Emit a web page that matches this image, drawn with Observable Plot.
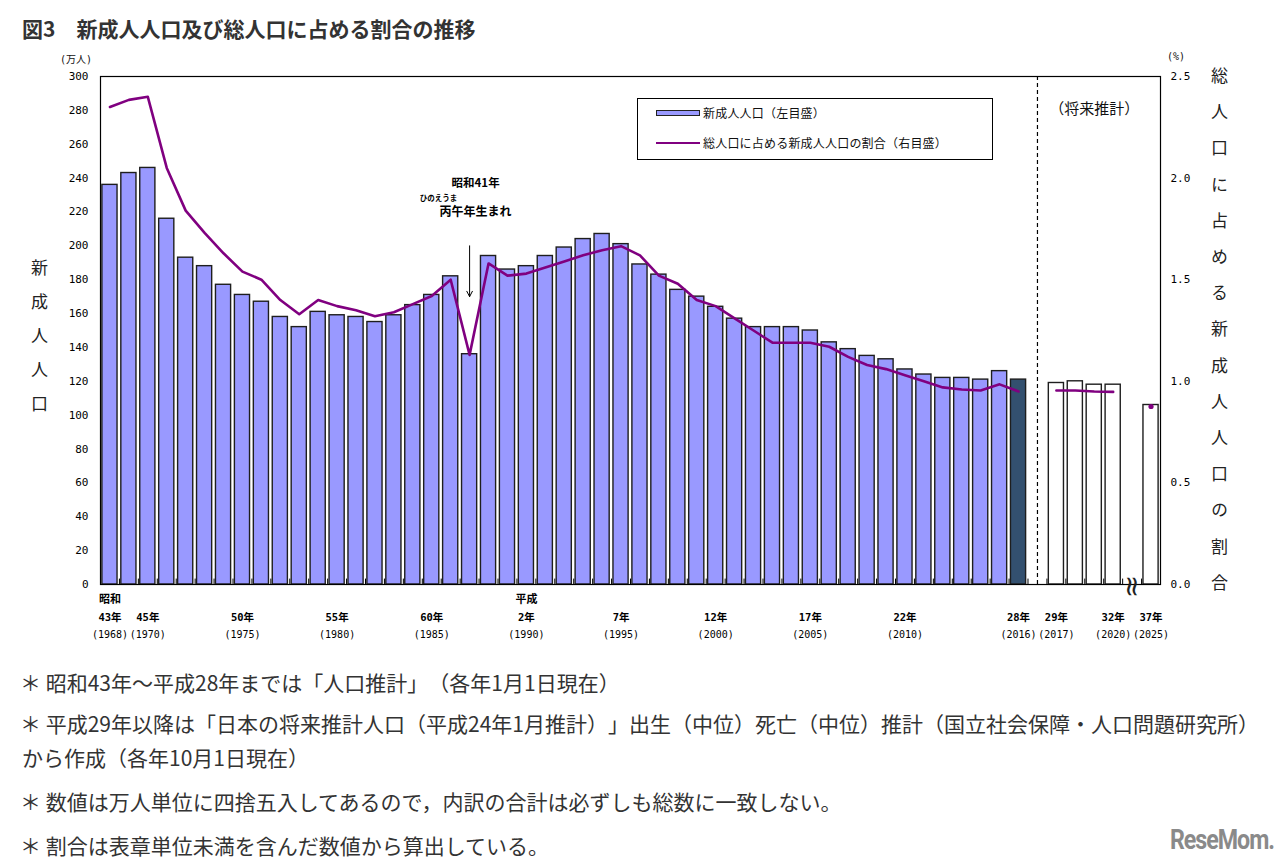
<!DOCTYPE html>
<html lang="ja">
<head>
<meta charset="utf-8">
<script src="https://cdn.jsdelivr.net/npm/d3@7"></script>
<script src="https://cdn.jsdelivr.net/npm/@observablehq/plot@0.6"></script>
<style>
html,body{margin:0;padding:0;background:#fff;}
#wrap{position:relative;width:1280px;height:865px;overflow:hidden;font-family:"Noto Sans CJK JP","Noto Sans",sans-serif;color:#333;text-spacing-trim:space-all;}
#chart{position:absolute;left:0;top:0;}
.abs{position:absolute;white-space:nowrap;}
#title{left:22px;top:15px;font-size:21px;font-weight:bold;line-height:26px;color:#333;}
.note{left:20px;font-size:21px;line-height:24px;color:#333;}
.vlab{writing-mode:vertical-rl;font-size:17px;line-height:17px;color:#222;}
#legend{left:637px;top:98px;width:354px;height:60px;border:1px solid #000;background:#fff;font-size:12px;color:#111;}
#legend .abs{font-size:12px;line-height:16px;letter-spacing:0.2px;}
.unit{font-family:"DejaVu Sans Mono","Noto Sans CJK JP",monospace;font-size:10px;color:#111;}
#logo{left:1170px;top:824px;font-family:Roboto,"Liberation Sans",sans-serif;font-weight:bold;font-size:27px;color:#8a8a8a;letter-spacing:-1.2px;transform:scaleX(0.86);transform-origin:left top;}
svg text{text-spacing-trim:space-all;}
</style>
</head>
<body>
<div id="wrap">
  <div id="title" class="abs">図3　新成人人口及び総人口に占める割合の推移</div>
  <div id="chart"></div>
  <div class="abs unit" style="left:60px;top:51px;">(万人)</div>
  <div class="abs unit" style="left:1167px;top:51px;">(%)</div>
  <div class="abs vlab" style="left:31px;top:259px;letter-spacing:17px;">新成人人口</div>
  <div class="abs vlab" style="left:1211px;top:67px;letter-spacing:19.2px;">総人口に占める新成人人口の割合</div>
  <div id="legend" class="abs">
    <div class="abs" style="left:18px;top:11px;width:42px;height:4px;background:#9999ff;border:1px solid #222;"></div>
    <div class="abs" style="left:65px;top:6px;">新成人人口（左目盛）</div>
    <div class="abs" style="left:18px;top:43px;width:44px;height:2px;background:#800080;"></div>
    <div class="abs" style="left:65px;top:36px;">総人口に占める新成人人口の割合（右目盛）</div>
  </div>
  <div class="abs note" style="top:670px;">＊ 昭和43年～平成28年までは「人口推計」（各年1月1日現在）</div>
  <div class="abs note" style="top:711px;">＊ 平成29年以降は「日本の将来推計人口（平成24年1月推計）」出生（中位）死亡（中位）推計（国立社会保障・人口問題研究所）</div>
  <div class="abs note" style="top:745px;left:22px;">から作成（各年10月1日現在）</div>
  <div class="abs note" style="top:789px;">＊ 数値は万人単位に四捨五入してあるので，内訳の合計は必ずしも総数に一致しない。</div>
  <div class="abs note" style="top:833px;">＊ 割合は表章単位未満を含んだ数値から算出している。</div>
  <div id="logo" class="abs">ReseMom.</div>
</div>
<script>
// ---- data ----
const years = ["1968","1969","1970","1971","1972","1973","1974","1975","1976","1977",
  "1978","1979","1980","1981","1982","1983","1984","1985","1986","1987",
  "1988","1989","1990","1991","1992","1993","1994","1995","1996","1997",
  "1998","1999","2000","2001","2002","2003","2004","2005","2006","2007",
  "2008","2009","2010","2011","2012","2013","2014","2015","2016"];
const adults = [236,243,246,216,193,188,177,171,167,158,
  152,161,159,158,155,159,165,171,182,136,
  194,186,188,194,199,204,207,201,189,183,
  174,170,164,157,152,152,152,150,143,139,
  135,133,127,124,122,122,121,126,121];
const ratio = [2.35,2.385,2.40,2.05,1.84,1.73,1.63,1.54,1.50,1.40,
  1.33,1.40,1.37,1.35,1.32,1.34,1.38,1.42,1.50,1.13,
  1.58,1.52,1.53,1.56,1.59,1.62,1.645,1.665,1.62,1.52,
  1.48,1.40,1.37,1.31,1.25,1.19,1.19,1.19,1.17,1.12,
  1.08,1.06,1.03,1.00,0.97,0.96,0.955,0.985,0.95];
const projYears = ["2017","2018","2019","2020"];
const projAdults = [119,120,118,118];
const projRatio = [0.955,0.955,0.95,0.948];
const farYear = "2025";
const farAdults = 106;
const farRatio = 0.876;

const tickKeys = ["1968","1970","1975","1980","1985","1990","1995","2000","2005","2010","2016","2017","2020","2025"];
const tickJp   = ["43年","45年","50年","55年","60年","2年","7年","12年","17年","22年","28年","29年","32年","37年"];
const tickWest = ["(1968)","(1970)","(1975)","(1980)","(1985)","(1990)","(1995)","(2000)","(2005)","(2010)","(2016)","(2017)","(2020)","(2025)"];
const eraKeys = ["1968","1990"];
const eraLabels = ["昭和","平成"];
const leftTicks = [0,20,40,60,80,100,120,140,160,180,200,220,240,260,280,300];
const rightTicks = [0,0.5,1.0,1.5,2.0,2.5];

// ---- build ----
const keys = [...years, "gap", ...projYears, "break", farYear];
const yMax = 300, rMax = 2.5, k = yMax / rMax;
const W = 1280, H = 650, ML = 100, MR = 120, MT = 76, MB = H - 584;
const step = (W - ML - MR) / keys.length;

const bars = [
  ...years.map((y, i) => ({key: y, value: adults[i], fill: y === "2016" ? "#33506f" : "#9999ff"})),
  ...projYears.map((y, i) => ({key: y, value: projAdults[i], fill: "#ffffff"})),
  {key: farYear, value: farAdults, fill: "#ffffff"}
];
const histLine = years.map((y, i) => ({key: y, v: ratio[i] * k}));
const projLine = projYears.map((y, i) => ({key: y, v: projRatio[i] * k}));
const farPoint = [{key: farYear, v: farRatio * k}];
const tickTable = tickKeys.map((key, i) => ({key, jp: tickJp[i], west: tickWest[i]}));
const eraTable = eraKeys.map((key, i) => ({key, label: eraLabels[i]}));

const mono = "DejaVu Sans Mono, Noto Sans CJK JP, monospace";
const cjk = "Noto Sans CJK JP, sans-serif";

const chart = Plot.plot({
  width: W, height: H,
  marginLeft: ML, marginRight: MR, marginTop: MT, marginBottom: MB,
  style: {fontFamily: mono, fontSize: "11px", color: "#000", background: "transparent"},
  x: {type: "band", domain: keys, paddingInner: 0.2, paddingOuter: 0.1, axis: null},
  y: {domain: [0, yMax], axis: null},
  color: {type: "identity"},
  marks: [
    Plot.ruleX(keys, {x: d => d, dx: -step / 2, y1: 0, y2: 3.2, stroke: "#000", strokeWidth: 1}),
    Plot.barY(bars, {x: "key", y: "value", fill: "fill", stroke: "#1e1e1e", strokeWidth: 1.4}),
    Plot.ruleX(["gap"], {x: d => d, stroke: "#000", strokeWidth: 1.2, strokeDasharray: "4,3"}),
    Plot.line(histLine, {x: "key", y: "v", stroke: "#800080", strokeWidth: 2.6}),
    Plot.line(projLine, {x: "key", y: "v", stroke: "#800080", strokeWidth: 2.6}),
    Plot.dot(farPoint, {x: "key", y: "v", r: 2.6, fill: "#800080"}),
    Plot.frame({stroke: "#000", strokeWidth: 1.2}),
    Plot.axisY(leftTicks, {anchor: "left", tickSize: 0, tickPadding: 12, label: null, fontSize: 11}),
    Plot.axisY(rightTicks.map(d => d * k), {anchor: "right", tickSize: 0, tickPadding: 10, label: null, fontSize: 11,
      tickFormat: d => (d / k).toFixed(1)}),
    Plot.text(eraTable, {x: "key", text: "label", frameAnchor: "bottom", dy: 18, fontFamily: cjk, fontWeight: "bold", fontSize: 11}),
    Plot.text(tickTable, {x: "key", text: "jp", frameAnchor: "bottom", dy: 36, fontSize: 10.5, fontWeight: "bold"}),
    Plot.text(tickTable, {x: "key", text: "west", frameAnchor: "bottom", dy: 53, fontSize: 10}),
    Plot.text(["break"], {x: d => d, text: () => "≈", rotate: 90, frameAnchor: "bottom", dx: -9, dy: 2, fontSize: 28, fontFamily: "DejaVu Sans, sans-serif", fill: "#222"}),
    Plot.text(["2019"], {x: d => d, text: () => "（将来推計）", frameAnchor: "top", dy: 27, fontFamily: cjk, fontSize: 15, fill: "#111"}),
    Plot.text(["1987"], {x: d => d, y: () => 237, text: () => "昭和41年", dx: 6, fontFamily: cjk, fontSize: 11.5, fontWeight: "bold"}),
    Plot.text(["1987"], {x: d => d, y: () => 228, text: () => "ひのえうま", dx: -31, fontFamily: cjk, fontSize: 7.5, fontWeight: "bold"}),
    Plot.text(["1987"], {x: d => d, y: () => 220, text: () => "丙午年生まれ", dx: 6, fontFamily: cjk, fontSize: 12, fontWeight: "bold"}),
    Plot.arrow(["1987"], {x1: d => d, x2: d => d, y1: () => 200, y2: () => 170, stroke: "#000", strokeWidth: 1, headLength: 9, headAngle: 55})
  ]
});
document.getElementById("chart").appendChild(chart);
</script>
</body>
</html>
